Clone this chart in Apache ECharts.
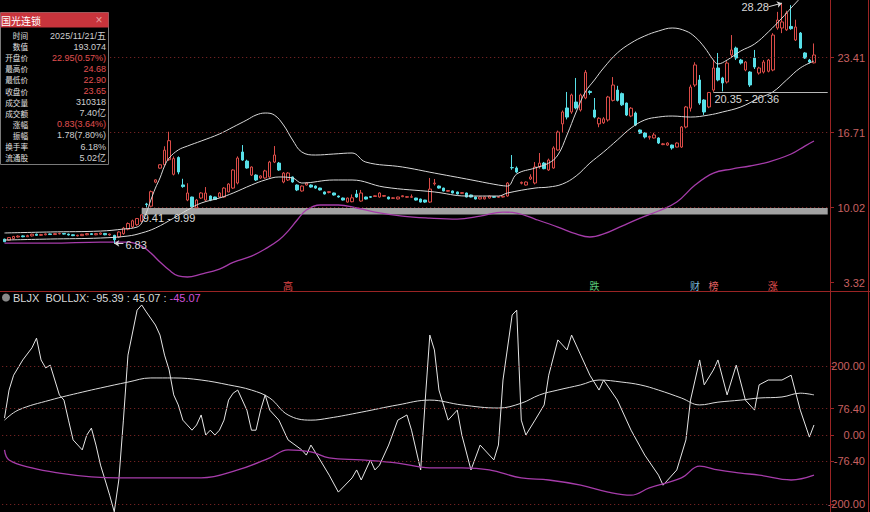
<!DOCTYPE html>
<html><head><meta charset="utf-8">
<script src="https://cdn.jsdelivr.net/npm/echarts@6/dist/echarts.min.js"></script>
<style>html,body{margin:0;padding:0;background:#000;}#c{width:870px;height:512px;}</style>
</head><body><div id="c"></div>
<script>
// ---------- data ----------
const categories = [];
for (let i = 0; i < 181; i++) categories.push('D' + (i + 1));

// [open, close, low, high]
const candles = [
[7.21,6.98,6.95,7.25],[7.12,7.35,7.08,7.40],[7.25,7.45,7.20,7.50],[7.40,7.48,7.35,7.55],[7.50,7.42,7.38,7.55],
[7.42,7.52,7.40,7.60],[7.50,7.65,7.45,7.70],[7.65,7.55,7.50,7.70],[7.55,7.62,7.50,7.68],[7.60,7.68,7.56,7.72],
[7.68,7.62,7.58,7.72],[7.62,7.70,7.60,7.75],[7.68,7.72,7.64,7.78],[7.72,7.66,7.62,7.76],[7.66,7.58,7.54,7.70],
[7.60,7.52,7.48,7.64],[7.50,7.56,7.46,7.60],[7.52,7.64,7.50,7.68],[7.60,7.70,7.56,7.76],[7.70,7.62,7.58,7.74],
[7.60,7.70,7.56,7.76],[7.65,7.75,7.60,7.80],[7.72,7.60,7.56,7.76],[7.58,7.66,7.52,7.70],[7.55,7.15,6.83,7.60],
[7.40,7.85,7.30,7.90],[7.70,8.20,7.60,8.30],[8.10,8.60,8.00,8.70],[8.30,8.85,8.20,8.95],[8.50,9.05,8.40,9.10],
[8.80,9.38,8.70,9.41],[10.35,10.30,9.99,10.45],[10.15,11.45,10.10,11.55],[12.30,12.50,12.20,12.55],[13.55,13.85,13.50,13.90],
[13.85,15.15,13.80,15.50],[14.30,16.00,14.20,16.80],[13.00,14.40,12.90,14.60],[14.50,13.20,13.00,14.60],[12.05,11.90,11.80,12.60],
[10.70,11.33,10.60,12.20],[10.97,10.10,10.00,11.00],[10.00,10.70,9.99,10.80],[10.88,11.33,10.80,11.40],[10.70,11.33,10.60,11.86],
[11.06,10.70,10.60,11.10],[10.97,10.75,10.70,11.00],[10.97,11.33,10.90,11.40],[10.97,11.77,10.90,11.85],[11.42,12.13,11.40,12.20],
[11.77,13.38,11.70,13.45],[12.22,14.45,12.10,14.60],[14.99,14.27,14.20,15.61],[14.18,13.56,13.50,14.30],[12.93,13.65,12.85,13.70],
[12.93,12.49,12.40,13.00],[12.67,12.85,12.60,12.90],[12.67,13.30,12.60,13.40],[12.76,14.09,12.70,14.20],[14.09,14.72,14.00,15.52],
[14.00,13.38,13.30,14.10],[12.31,13.11,12.20,13.20],[12.49,13.11,12.40,13.20],[12.76,12.31,12.25,12.80],[12.04,11.60,11.50,12.10],
[11.51,11.95,11.45,12.00],[12.04,12.22,12.00,12.30],[12.04,11.86,11.80,12.10],[11.95,11.77,11.70,12.00],[11.77,11.60,11.55,11.80],
[11.42,11.24,11.20,11.46],[11.38,11.45,11.30,11.50],[11.33,11.15,11.10,11.36],[11.06,10.97,10.92,11.10],[10.88,10.70,10.65,10.92],
[10.52,10.88,10.48,10.92],[10.55,10.90,10.50,11.20],[11.24,10.97,10.90,11.60],[10.61,11.33,10.55,11.60],[10.97,10.79,10.75,11.00],
[11.00,10.95,10.90,11.05],[11.02,11.08,10.98,11.12],[10.97,11.33,10.92,11.38],[11.04,11.10,11.00,11.15],[10.97,10.80,10.76,11.00],
[10.85,10.90,10.80,10.95],[10.80,10.97,10.76,11.00],[11.00,11.08,10.96,11.12],[10.95,11.00,10.90,11.05],[10.95,11.00,10.90,11.20],
[10.88,10.70,10.65,10.90],[10.79,10.52,10.48,10.82],[10.70,10.52,10.45,10.72],[10.52,11.68,10.45,12.67],[12.15,12.22,12.00,12.58],
[11.95,11.77,11.72,12.00],[11.77,11.51,11.48,11.80],[11.48,11.55,11.44,11.60],[11.51,11.33,11.30,11.55],[11.42,11.24,11.20,11.45],
[11.30,11.36,11.26,11.40],[11.33,10.97,10.94,11.36],[11.15,10.97,10.94,11.18],[10.97,10.79,10.75,11.00],[10.80,10.97,10.76,11.00],
[10.80,10.97,10.76,11.00],[10.88,11.06,10.84,11.10],[11.00,10.95,10.90,11.04],[10.95,11.00,10.91,11.05],[10.97,11.04,10.93,11.08],
[11.06,12.22,11.00,12.30],[13.60,13.58,13.40,14.72],[13.56,13.20,13.10,13.70],[12.20,12.28,12.10,12.35],[12.04,12.31,12.00,12.36],
[12.58,12.76,12.50,13.00],[12.22,13.65,12.10,14.09],[13.65,14.00,13.50,14.90],[14.00,13.50,13.45,14.10],[13.38,14.27,13.30,14.40],
[13.56,15.35,13.50,15.50],[15.17,16.77,15.10,16.90],[17.50,18.56,16.70,18.70],[18.92,18.11,17.90,20.35],[18.56,20.08,18.40,20.20],
[19.45,18.92,18.80,21.60],[18.74,20.08,18.60,20.20],[19.81,22.10,19.70,22.30],[20.40,20.30,20.10,20.50],[18.74,18.11,18.00,19.81],
[17.50,18.00,17.20,18.10],[17.60,17.95,17.50,18.10],[17.85,19.90,17.70,20.00],[19.60,20.97,19.50,21.68],[20.52,19.60,19.50,20.90],
[20.20,19.20,19.10,20.30],[19.36,18.29,18.20,19.40],[18.20,18.90,18.10,19.00],[18.47,17.40,17.30,18.60],[16.95,16.68,16.60,17.00],
[16.68,16.33,16.20,16.75],[16.30,16.38,16.10,16.45],[16.24,16.51,16.20,16.70],[16.24,15.79,15.70,16.30],[15.65,15.72,15.60,15.80],
[15.61,15.79,15.55,15.85],[15.61,15.35,15.20,15.65],[15.43,15.79,15.40,15.85],[15.43,17.22,15.35,17.30],[17.22,19.01,17.10,19.10],
[18.90,20.79,18.60,21.00],[20.97,22.76,20.80,23.00],[21.42,19.36,19.20,21.86],[19.63,18.56,18.30,19.70],[19.01,20.30,18.90,20.35],
[20.52,22.49,20.36,23.20],[22.49,21.42,21.30,23.83],[21.60,21.15,20.40,21.70],[21.24,22.93,21.10,23.10],[23.65,24.10,23.40,25.43],
[24.27,23.38,23.20,24.40],[23.20,22.93,22.80,23.30],[22.31,23.02,22.20,23.10],[22.13,20.97,20.80,22.20],[23.38,22.58,22.40,24.10],
[22.04,22.49,21.90,22.60],[22.13,23.02,22.00,23.20],[22.20,23.20,22.10,23.30],[22.31,25.43,22.20,25.60],[26.06,26.77,25.90,27.50],
[26.06,26.60,25.60,28.28],[25.90,27.40,25.80,27.60],[26.20,26.00,25.90,28.10],[24.99,26.15,24.90,26.80],[25.61,24.27,24.20,25.70],
[23.83,23.38,23.30,23.90],[23.20,23.02,22.90,23.30],[22.95,23.65,22.90,24.68]
];

// Bollinger bands: [day index, price]
const bollUpper = [[0,7.76],[10,7.85],[21,7.93],[26,8.11],[29,8.29],[30,8.65],[31,9.54],[32,10.70],[33,11.77],[34,12.67],[35,13.74],[36,14.45],[38,15.17],[40,15.52],[43,15.97],[47,16.60],[50,17.22],[53,17.85],[55,18.29],[57,18.47],[59,18.29],[61,17.40],[63,16.06],[65,14.99],[68,14.72],[72,14.81],[76,14.90],[79,14.09],[87,13.65],[94,13.11],[101,12.58],[108,12.04],[110,11.95],[112,13.02],[116,13.56],[119,14.00],[121,14.72],[123,16.51],[125,18.56],[127,20.35],[129,21.42],[131,22.49],[134,23.83],[137,24.72],[140,25.35],[143,25.79],[146,26.06],[149,25.79],[151,25.26],[153,24.36],[155,23.20],[156,22.85],[158,23.20],[161,24.01],[164,24.63],[167,25.70],[170,26.95],[172,27.85],[174,28.74],[177,30.17]];
const bollMid = [[0,7.13],[10,7.22],[21,7.31],[27,7.49],[30,7.76],[33,8.20],[37,9.09],[40,9.81],[43,10.43],[47,10.88],[50,11.33],[54,12.04],[57,12.49],[60,12.76],[63,12.67],[65,12.22],[72,12.49],[76,12.49],[83,11.86],[94,11.42],[101,11.06],[108,11.06],[110,11.33],[116,11.77],[119,11.86],[122,12.13],[125,12.85],[128,14.00],[131,14.99],[134,16.06],[137,17.13],[140,17.85],[143,18.11],[146,18.20],[150,18.11],[154,18.29],[157,18.56],[161,19.01],[165,19.81],[168,20.35],[171,21.42],[174,22.49],[177,23.11]];
const bollLower = [[0,6.86],[10,6.86],[21,6.95],[27,6.95],[30,6.60],[32,5.97],[34,5.17],[36,4.45],[38,3.92],[40,3.83],[43,4.09],[47,4.54],[50,5.13],[54,5.70],[57,6.33],[60,7.13],[62,7.93],[64,8.92],[66,9.81],[69,10.26],[73,10.26],[77,9.99],[81,9.63],[87,9.27],[93,9.09],[99,9.00],[104,9.27],[109,9.63],[112,9.54],[116,9.00],[121,8.29],[125,7.67],[128,7.40],[131,7.67],[135,8.38],[139,9.09],[143,9.72],[147,10.52],[151,12.04],[155,13.11],[159,13.47],[163,13.74],[167,14.09],[172,14.81],[175,15.52],[177,15.97]];

// lower panel (BLJX / BOLLJX)
const bljx = [[0,49],[1,130],[2,173],[4,217],[6,252],[7,280],[8,217],[9,194],[10,202],[12,116],[13,101],[14,43],[15,-14],[17,-43],[18,0],[19,20],[20,-29],[21,-87],[22,-130],[23,-174],[24,-222],[25,-130],[26,43],[27,231],[29,361],[30,376],[31,356],[33,318],[34,289],[35,231],[36,188],[37,116],[38,87],[39,43],[41,14],[42,29],[43,58],[44,0],[45,14],[46,0],[47,14],[48,43],[49,101],[50,121],[51,130],[53,72],[54,14],[55,14],[56,72],[57,116],[58,72],[60,43],[62,-14],[65,-43],[66,-58],[67,-29],[69,-72],[71,-116],[73,-165],[76,-124],[77,-101],[78,-130],[80,-72],[81,-101],[82,-87],[84,-29],[86,43],[88,58],[89,14],[91,-101],[92,101],[93,289],[94,246],[95,130],[97,43],[99,72],[100,0],[102,-101],[104,-29],[107,-72],[108,-29],[109,159],[111,347],[112,361],[113,43],[114,0],[116,43],[118,87],[119,173],[121,275],[123,246],[124,289],[126,231],[128,173],[130,130],[131,159],[134,101],[137,14],[140,-58],[143,-116],[144,-145],[147,-101],[149,-14],[150,101],[152,217],[153,145],[155,188],[156,217],[158,116],[160,202],[162,101],[164,72],[165,145],[167,159],[170,159],[172,173],[174,72],[176,-6],[177,29]];
const bolljxUp = [[0,43],[3,72],[10,101],[17,124],[21,136],[27,153],[32,165],[37,165],[43,159],[49,145],[54,130],[58,107],[62,58],[67,43],[71,49],[78,66],[86,87],[93,101],[100,87],[108,78],[113,92],[117,116],[121,130],[126,145],[130,159],[135,153],[139,145],[143,130],[148,107],[152,87],[156,95],[161,101],[165,107],[170,110],[174,121],[177,116]];
const bolljxDn = [[0,-43],[1,-72],[6,-95],[12,-110],[19,-121],[25,-124],[43,-124],[51,-101],[58,-66],[62,-43],[67,-49],[71,-66],[78,-72],[86,-81],[93,-95],[100,-95],[106,-101],[113,-124],[119,-130],[126,-145],[132,-165],[137,-174],[141,-153],[148,-124],[152,-90],[156,-101],[161,-110],[165,-116],[172,-130],[177,-116]];

const priceTicks = [3.32, 10.02, 16.71, 23.41];
const indTicks = [-200, -76.4, 0, 76.4, 200];

const infoLabels = ['时间','数值','开盘价','最高价','最低价','收盘价','成交量','成交额','涨幅','振幅','换手率','流通股'];
const infoValues = ['2025/11/21/五','193.074','22.95(0.57%)','24.68','22.90','23.65','310318','7.40亿','0.83(3.64%)','1.78(7.80%)','6.18%','5.02亿'];
const infoRed = [false,false,true,true,true,true,false,false,true,false,false,false];

const eventMarks = [
  {i:62, text:'高', color:'#e04848'},
  {i:129, text:'跌', color:'#58c878'},
  {i:151, text:'财', color:'#78b8d8'},
  {i:155, text:'榜', color:'#e06060'},
  {i:168, text:'涨', color:'#e05050'}
];

// ---------- chart ----------
const chart = echarts.init(document.getElementById('c'), null, {renderer:'svg'});
const RED_AX = '#9a2424';
const LBL = '#c86060';
const F = '"Liberation Sans", Arial, sans-serif';
const CJK = '"Noto Sans CJK SC", sans-serif';
const VF = '"Liberation Sans", "Noto Sans CJK SC", sans-serif';

const gfx = [];
gfx.push({type:'line', shape:{x1:0,y1:291.5,x2:870,y2:291.5}, style:{stroke:RED_AX,lineWidth:1}, z:50});
gfx.push({type:'line', shape:{x1:830.5,y1:0,x2:830.5,y2:512}, style:{stroke:RED_AX,lineWidth:1}, z:50});
gfx.push({type:'line', shape:{x1:868.5,y1:0,x2:868.5,y2:512}, style:{stroke:RED_AX,lineWidth:1}, z:50});
// info box
gfx.push({type:'rect', shape:{x:0.5,y:12.5,width:108,height:152}, style:{fill:'#000',stroke:'#7a7a7a',lineWidth:1}, z:60});
gfx.push({type:'rect', shape:{x:0.5,y:12.5,width:108,height:15}, style:{fill:'#c8343c'}, z:61});
gfx.push({type:'text', style:{text:'国光连锁', x:1, y:20, fill:'#fff', font:'10px '+CJK, lineHeight:11, verticalAlign:'middle'}, z:62});
gfx.push({type:'text', style:{text:'×', x:99, y:20, fill:'#e8a0a0', font:'12px '+F, lineHeight:12, align:'center', verticalAlign:'middle'}, z:62});
infoLabels.forEach((t,k)=>{
  const y = 35.5 + k*11.1;
  gfx.push({type:'text', style:{text:t, x:28, y:y, fill:'#e0e0e0', font:'7.6px '+CJK, lineHeight:8, align:'right', verticalAlign:'middle'}, z:62});
  gfx.push({type:'text', style:{text:infoValues[k], x:106, y:y, fill:infoRed[k]?'#e05050':'#cfcfcf', font:'9px '+VF, lineHeight:9, align:'right', verticalAlign:'middle'}, z:62});
});
// lower legend
gfx.push({type:'circle', shape:{cx:6,cy:297.5,r:4}, style:{fill:'#8a8a8a'}, z:62});
gfx.push({type:'text', style:{text:'{a|BLJX  BOLLJX: -95.39 : 45.07 : }{b|-45.07}', x:13, y:298, font:'11px '+F, verticalAlign:'middle',
  rich:{a:{fill:'#d8d8d8', font:'11px '+F}, b:{fill:'#d050d8', font:'11px '+F}}}, z:62});

const evPoints = eventMarks.map(e=>({coord:[e.i, 3.05], symbolSize:0,
  label:{show:true, formatter:e.text, color:e.color, fontSize:10, fontFamily:CJK, position:'inside'}}));

const option = {
  backgroundColor:'#000',
  animation:false,
  graphic:gfx,
  grid:[{left:2.2, right:40, top:0, height:291},{left:2.2, right:40, top:297, height:215}],
  xAxis:[0,1].map(g=>({type:'category', gridIndex:g, data:categories, boundaryGap:true,
    axisLine:{show:false}, axisTick:{show:false}, axisLabel:{show:false}, splitLine:{show:false}})),
  yAxis:[
    {gridIndex:0, position:'right', min:2.58, max:28.56,
     axisLine:{show:true, lineStyle:{color:RED_AX}},
     axisTick:{show:true, length:4, customValues:priceTicks, lineStyle:{color:RED_AX}},
     axisLabel:{show:true, customValues:priceTicks, formatter:v=>Number(v).toFixed(2), color:LBL, fontSize:11, fontFamily:F, margin:35, align:'right'},
     splitLine:{show:false}},
    {gridIndex:1, position:'right', min:-222.5, max:399,
     axisLine:{show:true, lineStyle:{color:RED_AX}},
     axisTick:{show:true, length:4, customValues:indTicks, lineStyle:{color:RED_AX}},
     axisLabel:{show:true, customValues:indTicks, formatter:v=>Number(v).toFixed(2), color:LBL, fontSize:11, fontFamily:F, margin:35, align:'right'},
     splitLine:{show:false}}
  ],
  series:[
    {type:'line', xAxisIndex:0, yAxisIndex:0, data:bollLower, symbol:'none', smooth:0.4,
     lineStyle:{color:'#a63caa', width:1.3}, z:2},
    {type:'candlestick', xAxisIndex:0, yAxisIndex:0, data:candles, barWidth:3,
     itemStyle:{color:'#000', color0:'#58e0e8', borderColor:'#dc4c48', borderColor0:'#58e0e8', borderWidth:1},
     z:3,
     markArea:{silent:true, itemStyle:{color:'#a2a2a2'}, data:[[{coord:[30, 9.99]},{coord:[180, 9.41]}]]},
     markLine:{silent:true, symbol:'none', label:{show:false},
       data:[
         {yAxis:23.41, lineStyle:{type:[1,3], color:'#8a2a2a', width:1}},
         {yAxis:16.71, lineStyle:{type:[1,3], color:'#8a2a2a', width:1}},
         {yAxis:10.02, lineStyle:{type:[1,3], color:'#8a2a2a', width:1}},
         [{coord:[155, 20.36], lineStyle:{type:'solid', color:'#b8b8b8', width:1}}, {coord:[180, 20.36]}],
         [{coord:[167, 27.95], symbol:'none', lineStyle:{type:'solid', color:'#d8d8d8', width:1}}, {coord:[170, 28.28], symbol:'arrow', symbolSize:5}],
         [{coord:[26, 6.83], symbol:'none', lineStyle:{type:'solid', color:'#d8d8d8', width:1}}, {coord:[24, 6.83], symbol:'arrow', symbolSize:5}]
       ]},
     markPoint:{silent:true, symbol:'circle', symbolSize:0,
       data:[
         {coord:[170, 28.28], label:{show:true, formatter:'28.28', position:'left', distance:13, offset:[0,4], color:'#d8d8d8', fontSize:11, fontFamily:F}},
         {coord:[26, 6.83], label:{show:true, formatter:'6.83', position:'right', distance:2, offset:[0,2], color:'#d8d8d8', fontSize:11, fontFamily:F}},
         {coord:[30, 9.41], label:{show:true, formatter:'9.41 - 9.99', position:'right', distance:1, offset:[0,4], color:'#d8d8d8', fontSize:11, fontFamily:F}},
         {coord:[155, 20.36], label:{show:true, formatter:'20.35 - 20.36', position:'right', distance:1, offset:[0,7], color:'#d8d8d8', fontSize:11, fontFamily:F}}
       ].concat(evPoints)}
    },
    {type:'line', xAxisIndex:0, yAxisIndex:0, data:bollUpper, symbol:'none', smooth:0.4,
     lineStyle:{color:'#d8d8d8', width:1}, z:4},
    {type:'line', xAxisIndex:0, yAxisIndex:0, data:bollMid, symbol:'none', smooth:0.4,
     lineStyle:{color:'#d8d8d8', width:1}, z:4},
    {type:'line', xAxisIndex:1, yAxisIndex:1, data:bljx, symbol:'none',
     lineStyle:{color:'#e6e6e6', width:1}, z:4,
     markLine:{silent:true, symbol:'none', label:{show:false},
       lineStyle:{type:[1,3], color:'#8a2a2a', width:1},
       data:indTicks.map(v=>({yAxis:v}))}},
    {type:'line', xAxisIndex:1, yAxisIndex:1, data:bolljxUp, symbol:'none', smooth:0.4,
     lineStyle:{color:'#dcdcdc', width:1}, z:4},
    {type:'line', xAxisIndex:1, yAxisIndex:1, data:bolljxDn, symbol:'none', smooth:0.4,
     lineStyle:{color:'#a63caa', width:1.3}, z:4}
  ]
};
chart.setOption(option);
</script>
</body></html>
